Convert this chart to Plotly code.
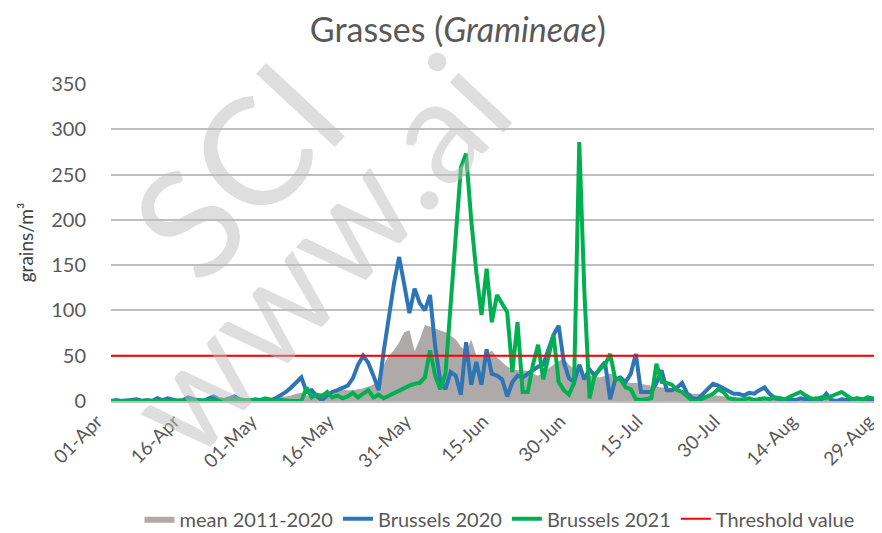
import pandas as pd
import plotly.graph_objects as go

# daily values from 01-Apr to 30-Aug (grains/m³)
dates = pd.date_range("2021-04-01", "2021-08-30", freq="D").strftime("%Y-%m-%d").tolist()

mean_2011_2020 = [
    0, 0, 0, 0, 1, 0, 0, 0, 1, 0,
    0, 1, 0, 0, 1, 1, 0, 1, 1, 1,
    1, 1, 1, 2, 1, 2, 2, 2, 2, 3,
    3, 3, 4, 5, 5, 6, 8, 9, 6, 6,
    8, 9, 10, 11, 12, 13, 12, 12, 13, 14,
    16, 18, 25, 40, 50, 56, 65, 76, 78, 55,
    68, 84, 82, 80, 78, 76, 72, 68, 60, 55,
    68, 50, 50, 50, 56, 48, 43, 38, 35, 34,
    34, 33, 30, 28, 32, 36, 40, 44, 47, 40,
    35, 32, 30, 28, 27, 26, 28, 30, 28, 25,
    21, 20, 20, 19, 18, 17, 16, 15, 15, 14,
    12, 10, 10, 8, 8, 7, 7, 6, 6, 5,
    5, 4, 4, 3, 3, 3, 3, 2, 2, 2,
    2, 2, 2, 2, 2, 1, 1, 1, 2, 1,
    1, 1, 1, 1, 1, 1, 1, 1, 1, 1, 1, 1,
]

brussels_2020 = [
    0, 1, 0, 0, 1, 2, 0, 1, 0, 3,
    1, 3, 2, 0, 1, 4, 2, 1, 0, 3,
    5, 2, 1, 3, 5, 2, 1, 0, 2, 1,
    2, 1, 3, 6, 10, 15, 20, 26, 10, 12,
    5, 1, 6, 10, 12, 14, 17, 25, 40, 50,
    42, 28, 12, 55, 95, 130, 159, 125, 97, 124,
    108, 100, 117, 60, 22, 13, 32, 28, 7, 65,
    18, 43, 18, 57, 30, 28, 24, 5, 21, 28,
    26, 30, 34, 38, 40, 55, 73, 83, 43, 25,
    21, 40, 24, 35, 28, 36, 43, 2, 24, 26,
    21, 30, 52, 10, 10, 10, 20, 34, 12, 12,
    15, 20, 8, 3, 2, 8, 14, 19, 17, 14,
    10, 8, 8, 6, 9, 8, 12, 15, 8, 3,
    2, 1, 2, 1, 3, 2, 1, 3, 1, 8,
    1, 0, 2, 1, 1, 3, 2, 1, 0, 1, 2, 1,
]

brussels_2021 = [
    0, 0, 0, 0, 0, 0, 0, 0, 0, 0,
    0, 0, 0, 0, 0, 0, 0, 0, 0, 0,
    0, 0, 0, 0, 0, 0, 0, 0, 0, 1,
    3, 2, 0, 1, 0, 0, 0, 0, 15, 4,
    7, 5, 10, 4, 6, 3, 5, 9, 4, 8,
    12, 4, 7, 3, 6, 8, 12, 14, 17, 19,
    20, 26, 56, 28, 13, 30, 110, 190, 258, 273,
    200, 142, 95, 146, 87, 117, 108, 98, 32, 87,
    10, 10, 40, 62, 24, 50, 73, 21, 12, 7,
    20, 286, 120, 3, 28, 35, 40, 52, 24, 24,
    15, 13, 2, 1, 2, 3, 41, 21, 20, 18,
    12, 10, 5, 0, 0, 3, 5, 8, 13, 10,
    3, 2, 1, 2, 3, 1, 2, 3, 2, 4,
    3, 2, 5, 8, 10, 6, 3, 2, 4, 3,
    5, 8, 10, 6, 2, 3, 1, 4, 3, 2, 6, 12,
]

threshold = 50
tick_dates = ["2021-04-01", "2021-04-16", "2021-05-01", "2021-05-16", "2021-05-31", "2021-06-15",
              "2021-06-30", "2021-07-15", "2021-07-30", "2021-08-14", "2021-08-29"]
tick_labels = ["01-Apr", "16-Apr", "01-May", "16-May", "31-May", "15-Jun",
               "30-Jun", "15-Jul", "30-Jul", "14-Aug", "29-Aug"]

font = "Lato, 'Open Sans', sans-serif"
grey_txt = "#595959"
wm_color = "rgba(190,190,190,0.5)"

fig = go.Figure()

fig.add_trace(go.Scatter(
    x=dates, y=mean_2011_2020, name="mean 2011-2020",
    mode="lines", fill="tozeroy", fillcolor="#AEAAAA",
    line=dict(width=0, color="#AEAAAA"),
))
fig.add_trace(go.Scatter(
    x=dates, y=brussels_2020, name="Brussels 2020",
    mode="lines", line=dict(color="#2E75B6", width=4),
))
fig.add_trace(go.Scatter(
    x=dates, y=brussels_2021, name="Brussels 2021",
    mode="lines", line=dict(color="#00B050", width=4),
))
fig.add_trace(go.Scatter(
    x=[dates[0], dates[-1]], y=[threshold, threshold], name="Threshold value",
    mode="lines", line=dict(color="#FF0000", width=2),
))

# watermark (only the part visible in the frame)
fig.add_annotation(text="SCI", x=142 / 882, y=1 - 142 / 533, xref="paper", yref="paper",
                   xanchor="center", yanchor="middle", showarrow=False, textangle=-47,
                   font=dict(family=font, size=150, color=wm_color))
fig.add_annotation(text="www.ai", x=232 / 882, y=1 - 282 / 533, xref="paper", yref="paper",
                   xanchor="center", yanchor="middle", showarrow=False, textangle=-47,
                   font=dict(family=font, size=145, color=wm_color))

fig.update_layout(
    width=882, height=533,
    margin=dict(l=103, r=2, t=76, b=140),
    paper_bgcolor="white", plot_bgcolor="white",
    font=dict(family=font, color=grey_txt),
    title=dict(text="Grasses (<i>Gramineae</i>)", x=0.51, xanchor="center",
               y=0.98, yanchor="top", font=dict(size=34, color=grey_txt)),
    showlegend=True,
    legend=dict(orientation="h", x=0.5, xanchor="center", y=-0.31, yanchor="top",
                font=dict(size=20, color=grey_txt), itemwidth=30, tracegroupgap=0),
)
fig.update_xaxes(
    range=[dates[0], dates[-1]], tickvals=tick_dates, ticktext=tick_labels,
    tickangle=-45, tickfont=dict(size=19, color=grey_txt), ticklabeloverflow="allow",
    ticklabelshift=-14, ticklabelstandoff=0,
    showgrid=False, showline=True, linecolor="#BFBFBF", linewidth=1.5,
    ticks="", zeroline=False,
)
fig.update_yaxes(
    range=[0, 350], dtick=50, tickfont=dict(size=20, color=grey_txt),
    ticklabelstandoff=24,
    showgrid=True, gridcolor="#BFBFBF", gridwidth=1.5, zeroline=False,
    title=dict(text="grains/m³", font=dict(size=19, color="#404040"), standoff=12),
)

fig.write_html("out.html")
